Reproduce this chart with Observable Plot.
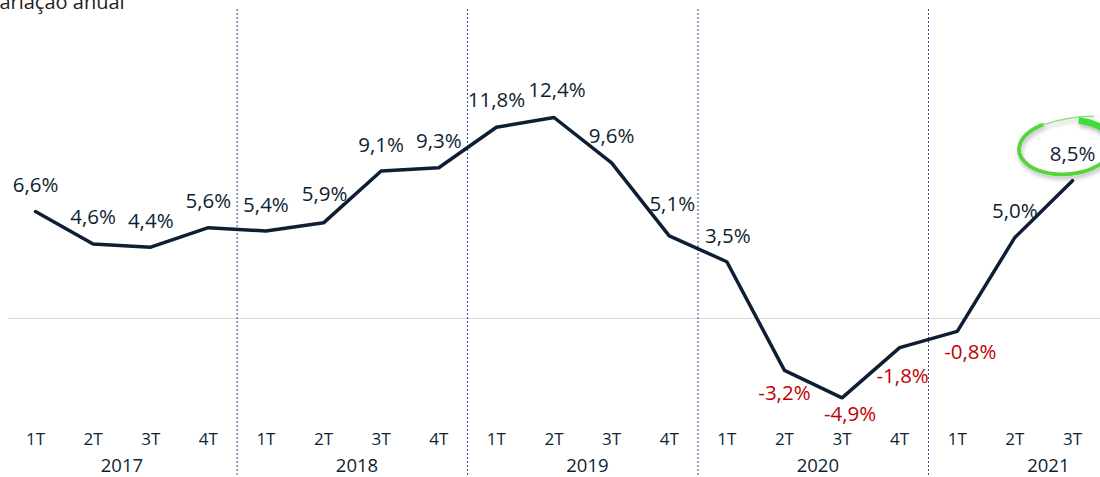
<!DOCTYPE html>
<html><head><meta charset="utf-8">
<script src="https://cdn.jsdelivr.net/npm/d3@7"></script>
<script src="https://cdn.jsdelivr.net/npm/@observablehq/plot@0.6"></script>
<style>body{margin:0;background:#fff;overflow:hidden} svg{display:block;overflow:visible}</style>
</head><body><div id="chart"></div>
<script>
const title = "Variação anual";
const years = ["2017","2018","2019","2020","2021"];
const quarterLabels = ["1T","2T","3T","4T"];
const quartersPerYear = [4,4,4,4,3];
const values = [6.6,4.6,4.4,5.6,5.4,5.9,9.1,9.3,11.8,12.4,9.6,5.1,3.5,-3.2,-4.9,-1.8,-0.8,5.0,8.5];

const data = [];
years.forEach((yr, yi) => {
  for (let q = 0; q < quartersPerYear[yi]; q++) {
    data.push({i: data.length, year: yr, q: quarterLabels[q], v: values[data.length]});
  }
});
const yearCenters = years.map((yr, yi) => {
  const idx = data.filter(d => d.year === yr).map(d => d.i);
  return {year: yr, x: idx[0] + 1.5 + (yi > 0 ? 0.08 : 0)};
});
const separators = years.slice(1).map(yr => data.find(d => d.year === yr).i - 0.5);

// label nudges (px)
const nudge = {
  default: {dx: 0, dy: -26},
  neg: {dx: 0, dy: 23},
  5: {dx: 1, dy: -28},
  8: {dx: 0, dy: -27},
  9: {dx: 3, dy: -27},
  11: {dx: 3, dy: -31},
  12: {dx: 1, dy: -25},
  13: {dx: 0, dy: 23},
  14: {dx: 8, dy: 17},
  15: {dx: 3, dy: 29},
  16: {dx: 13, dy: 21}
};
const fmt = v => d3.format(".1f")(v).replace(".", ",").replace("−","-") + "%";
const navy = "#0e1f33";
const red = "#c00000";
const font = "'Open Sans', 'Noto Sans', sans-serif";

const labelMarks = data.map(d => {
  const n = nudge[d.i] || (d.v < 0 ? nudge.neg : nudge.default);
  return Plot.text([d], {x: "i", y: "v", text: e => fmt(e.v), dx: n.dx, dy: n.dy,
    fill: d.v < 0 ? red : navy, fontSize: 20.5, fontWeight: 500, fontFamily: font});
});

const plot = Plot.plot({
  width: 1100, height: 477,
  marginTop: 0, marginRight: 0, marginBottom: 0, marginLeft: 0,
  style: {fontFamily: font, background: "#fff", overflow: "visible"},
  x: {type: "linear", domain: [0, 18], range: [35, 1072], axis: null},
  y: {type: "linear", domain: [-5, 12.4], range: [399, 117], axis: null},
  marks: [
    Plot.ruleY([0], {stroke: "#d9d9d9", strokeWidth: 1, insetLeft: 8}),
    Plot.ruleX(separators, {stroke: "#2b4a8c", strokeWidth: 1, strokeDasharray: "2,2", insetTop: 9}),
    Plot.line(data, {x: "i", y: "v", stroke: navy, strokeWidth: 3.5, strokeLinejoin: "miter"}),
    ...labelMarks,
    Plot.text(data, {x: "i", text: "q", frameAnchor: "bottom", lineAnchor: "middle", dy: -38, fill: navy, fontSize: 17, fontWeight: 500, fontFamily: font}),
    Plot.text(yearCenters, {x: "x", text: "year", frameAnchor: "bottom", lineAnchor: "middle", dy: -11, fill: navy, fontSize: 18.5, fontWeight: 500, fontFamily: font}),
    Plot.text([title], {frameAnchor: "top-left", textAnchor: "start", lineAnchor: "middle", dx: -13, dy: 2, fill: "#222", fontSize: 20, fontFamily: font})
  ]
});
document.getElementById("chart").append(plot);

// green highlight ellipse around the last value label (decoration)
const last = data[data.length - 1];
const cx = plot.scale("x").apply(last.i) - 6;
const cy = plot.scale("y").apply(last.v) - 33;
const rx = 47, ry = 27, tilt = -4 * Math.PI / 180;
const pt = a => {
  const r = a * Math.PI / 180;
  const x = rx * Math.cos(r), y = ry * Math.sin(r);
  return [cx + x * Math.cos(tilt) - y * Math.sin(tilt), cy + x * Math.sin(tilt) + y * Math.cos(tilt)];
};
const arc = (a0, a1, step) => {
  const pts = [];
  for (let a = a0; step > 0 ? a <= a1 : a >= a1; a += step) pts.push(pt(a));
  return d3.line()(pts);
};
const svg = d3.select(plot);
const defs = svg.append("defs");
const f = defs.append("filter").attr("id", "sh").attr("x", "-30%").attr("y", "-30%").attr("width", "160%").attr("height", "180%");
f.append("feDropShadow").attr("dx", 1).attr("dy", 3).attr("stdDeviation", 2).attr("flood-color", "#000").attr("flood-opacity", 0.28);
const g = svg.append("g").attr("filter", "url(#sh)");
g.append("path").attr("d", arc(-118, -365, -2))
  .attr("fill", "none").attr("stroke", "#55d43a").attr("stroke-width", 3.8).attr("stroke-linecap", "round");
const t0 = pt(-118);
g.append("path").attr("d", `M ${t0[0]} ${t0[1]} Q ${cx + 2} ${cy - 31} ${cx + 28} ${cy - 31}`)
  .attr("fill", "none").attr("stroke", "#8fe27c").attr("stroke-width", 1.4);
g.append("path").attr("d", arc(-72, -15, 2))
  .attr("fill", "none").attr("stroke", "#3fdc3a").attr("stroke-width", 6.5).attr("stroke-linecap", "butt");
</script>
</body></html>
